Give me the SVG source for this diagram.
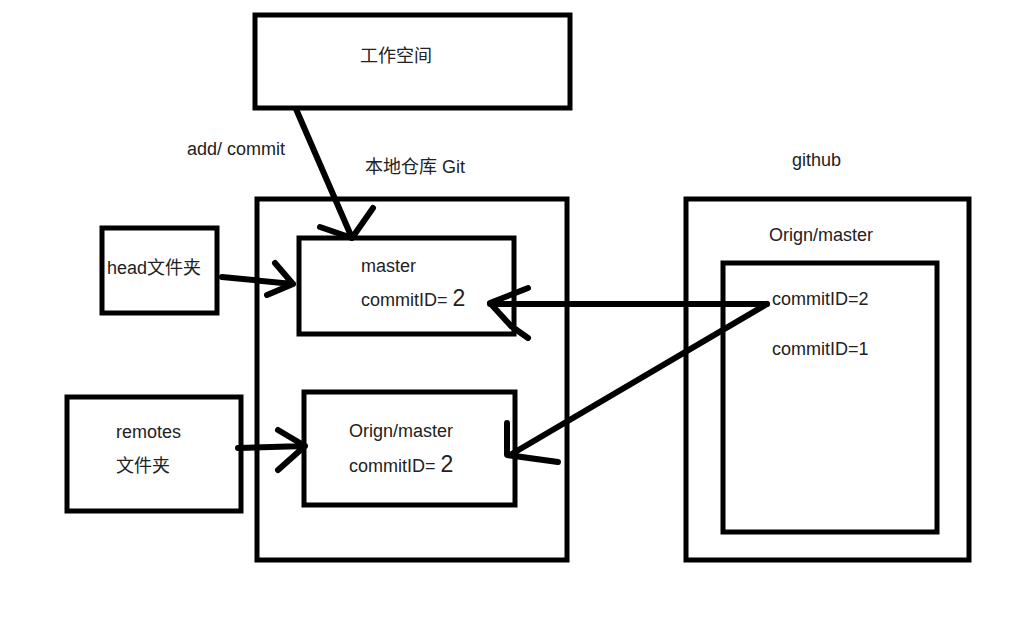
<svg xmlns="http://www.w3.org/2000/svg" width="1010" height="623" viewBox="0 0 1010 623">
<style>
.box{fill:none;stroke:#000;stroke-width:5}
.ln{fill:none;stroke:#000;stroke-width:6;stroke-linecap:round;stroke-linejoin:round}
text{font-family:"Liberation Sans","Noto Sans CJK SC",sans-serif;font-size:18px;fill:#222}
.big{font-size:23px}
</style>
<rect width="1010" height="623" fill="#fff"/>
<g id="workspace"><rect class="box" x="255" y="15" width="315" height="93"/><text x="360" y="62">工作空间</text></g>
<g id="local-repo"><rect class="box" x="257" y="199" width="310" height="361"/><text x="365" y="173">本地仓库 Git</text></g>
<text x="187" y="155">add/ commit</text>
<g id="master"><rect class="box" x="299" y="238" width="215" height="96"/><text x="361" y="272">master</text><text x="361" y="306">commitID= <tspan class="big">2</tspan></text></g>
<g id="head"><rect class="box" x="102" y="228" width="115" height="85"/><text x="107" y="274">head文件夹</text></g>
<g id="remotes"><rect class="box" x="67" y="397" width="174" height="114"/><text x="116" y="438">remotes</text><text x="116" y="472">文件夹</text></g>
<g id="local-origin"><rect class="box" x="304" y="392" width="211" height="113"/><text x="349" y="437">Orign/master</text><text x="349" y="472">commitID= <tspan class="big">2</tspan></text></g>
<g id="github"><rect class="box" x="686" y="199" width="283" height="361"/><text x="792" y="166">github</text><text x="769" y="241">Orign/master</text></g>
<g id="remote-origin"><rect class="box" x="723" y="263" width="214" height="269"/><text x="772" y="305">commitID=2</text><text x="772" y="355">commitID=1</text></g>
<g id="connectors">
<path class="ln" d="M296 109 L352 238 M320 227 L352 238 L373 208"/>
<path class="ln" d="M222 277 L293 284 M275 263 L293 284 L267 295"/>
<path class="ln" d="M238 448 L305 446 M278 430 L305 446 L278 470"/>
<path class="ln" d="M767 304 L490 304 M528 288 L490 303 L511 326 L528 338"/>
<path class="ln" d="M767 304 L510 455 M507 423 L507 455 L558 462"/>
</g>
</svg>
